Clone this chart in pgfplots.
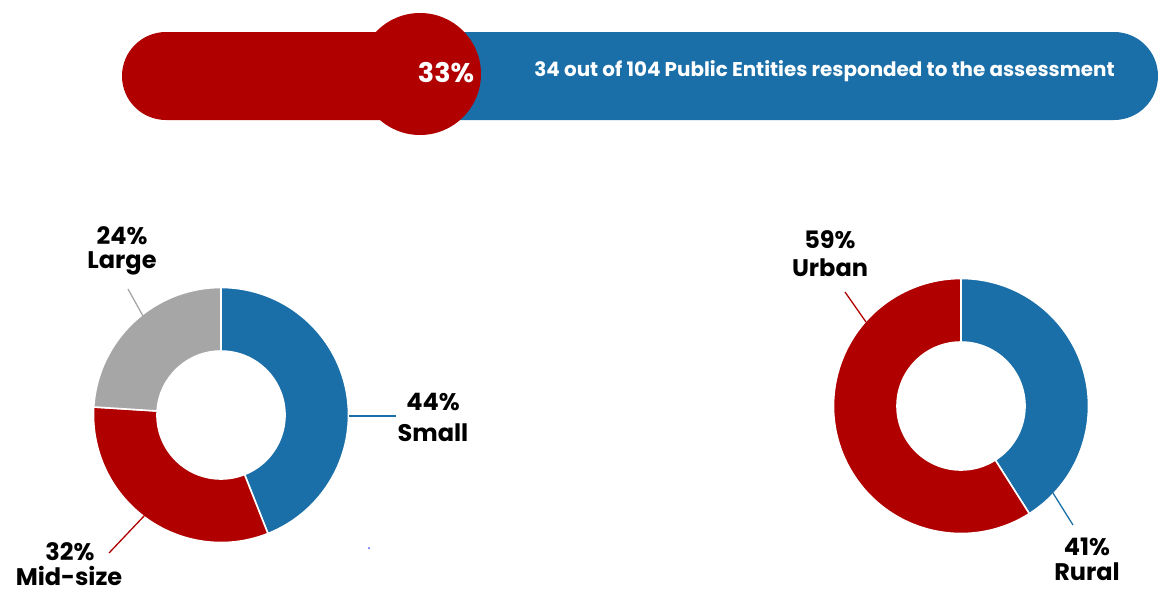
\documentclass[border=0pt]{standalone}
\usepackage{pgfplots}
\usepackage{pgfplotstable}
\pgfplotsset{compat=1.18}
\usepackage{fontspec}
\setmainfont{Poppins}
\definecolor{cblue}{HTML}{1B6FA8}
\definecolor{cred}{HTML}{B00000}
\definecolor{cgray}{HTML}{A6A6A6}

\pgfplotstableread{
label value
Small 44
Midsize 32
Large 24
}\sizetable
\pgfplotstableread{
label value
Rural 41
Urban 59
}\areatable
\pgfplotstablegetelem{0}{value}\of\sizetable \edef\vSmall{\pgfplotsretval}
\pgfplotstablegetelem{1}{value}\of\sizetable \edef\vMid{\pgfplotsretval}
\pgfplotstablegetelem{2}{value}\of\sizetable \edef\vLarge{\pgfplotsretval}
\pgfplotstablegetelem{0}{value}\of\areatable \edef\vRural{\pgfplotsretval}
\pgfplotstablegetelem{1}{value}\of\areatable \edef\vUrban{\pgfplotsretval}
\pgfmathsetmacro\cSmall{\vSmall}
\pgfmathsetmacro\cMid{\vSmall+\vMid}
\pgfmathsetmacro\cLarge{\vSmall+\vMid+\vLarge}
\pgfmathsetmacro\cRural{\vRural}
\pgfmathsetmacro\cUrban{\vRural+\vUrban}

% cx, cy, from %, to %, colour
\newcommand\donutsector[5]{%
  \fill[#5,draw=white,line width=1.6pt] (axis cs:#1,#2) ++({90-3.6*(#3)}:127.5pt)
    arc[start angle={90-3.6*(#3)},end angle={90-3.6*(#4)},radius=127.5pt]
    -- ++({90-3.6*(#4)}:-63.5pt)
    arc[start angle={90-3.6*(#4)},end angle={90-3.6*(#3)},radius=64pt] -- cycle;}

\begin{document}
\begin{tikzpicture}
\begin{axis}[width=1160pt,height=592pt,scale only axis,
  xmin=0,xmax=1160,ymin=0,ymax=592,y dir=reverse,hide axis,clip=false,
  every node/.append style={inner sep=0pt}]
% banner
\fill[cblue] (axis cs:420,32) -- (axis cs:1114,32)
  arc[start angle=90,end angle=-90,radius=44pt] -- (axis cs:420,120) -- cycle;
\fill[cred] (axis cs:420,32) -- (axis cs:166,32)
  arc[start angle=90,end angle=270,radius=44pt] -- (axis cs:420,120) -- cycle;
\fill[cred] (axis cs:420,74) circle[radius=61pt];
\node[white,font=\fontsize{27}{32}\selectfont\bfseries] at (axis cs:446,73) {33\%};
\node[white,font=\fontsize{19.9}{22}\selectfont\bfseries] at (axis cs:824.5,71)
  {34 out of 104 Public Entities responded to the assessment};

% left donut
\donutsector{221}{415}{0}{\cSmall}{cblue}
\donutsector{221}{415}{\cSmall}{\cMid}{cred}
\donutsector{221}{415}{\cMid}{\cLarge}{cgray}
\draw[cblue,line width=1.3pt] (axis cs:349,416) -- (axis cs:396,416);
\draw[cgray,line width=1.3pt] (axis cs:128,289) -- (axis cs:143,316);
\draw[cred,line width=1.3pt] (axis cs:145,515) -- (axis cs:109,553);
\fill[blue!70] (axis cs:369,548) circle[radius=1pt];
\node[font=\fontsize{24}{30}\selectfont\bfseries] at (axis cs:433,402) {\vSmall\%};
\node[font=\fontsize{24}{30}\selectfont\bfseries] at (axis cs:433,433) {Small};
\node[font=\fontsize{24}{30}\selectfont\bfseries] at (axis cs:122,236) {\vLarge\%};
\node[font=\fontsize{24}{30}\selectfont\bfseries] at (axis cs:122,263) {Large};
\node[font=\fontsize{24}{30}\selectfont\bfseries] at (axis cs:70,552) {\vMid\%};
\node[font=\fontsize{24}{30}\selectfont\bfseries] at (axis cs:69,576) {Mid-size};

% right donut
\donutsector{961}{406}{0}{\cRural}{cblue}
\donutsector{961}{406}{\cRural}{\cUrban}{cred}
\draw[cred,line width=1.3pt] (axis cs:845,292) -- (axis cs:866,322);
\draw[cblue,line width=1.3pt] (axis cs:1053,493) -- (axis cs:1073,525);
\node[font=\fontsize{24}{30}\selectfont\bfseries] at (axis cs:830,240) {\vUrban\%};
\node[font=\fontsize{24}{30}\selectfont\bfseries] at (axis cs:830,268) {Urban};
\node[font=\fontsize{24}{30}\selectfont\bfseries] at (axis cs:1087,547) {\vRural\%};
\node[font=\fontsize{24}{30}\selectfont\bfseries] at (axis cs:1087,572) {Rural};
\end{axis}
\pgfresetboundingbox
\useasboundingbox (current axis.south west) rectangle (current axis.north east);
\end{tikzpicture}
\end{document}
